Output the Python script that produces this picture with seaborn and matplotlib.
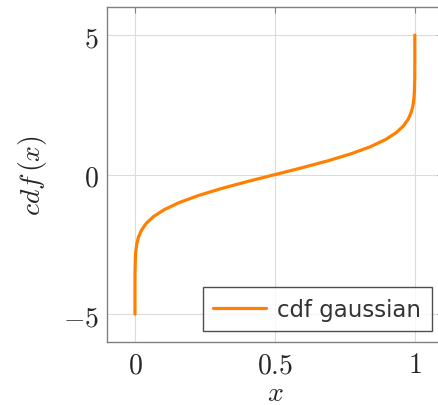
import matplotlib
matplotlib.use("Agg")
import matplotlib.pyplot as plt
import seaborn as sns
import pandas as pd

# values of the gaussian cdf (x axis) against y
y_vals = [-5, -4.5, -4, -3.5, -3, -2.75, -2.5, -2.25, -2, -1.75, -1.5, -1.25, -1,
          -0.75, -0.5, -0.25, 0, 0.25, 0.5, 0.75, 1, 1.25, 1.5, 1.75, 2, 2.25,
          2.5, 2.75, 3, 3.5, 4, 4.5, 5]
cdf_vals = [0.0000003, 0.0000034, 0.0000317, 0.000233, 0.00135, 0.00298, 0.00621,
            0.01222, 0.02275, 0.04006, 0.06681, 0.10565, 0.15866, 0.22663, 0.30854,
            0.40129, 0.5, 0.59871, 0.69146, 0.77337, 0.84134, 0.89435, 0.93319,
            0.95994, 0.97725, 0.98778, 0.99379, 0.99702, 0.99865, 0.999767,
            0.9999683, 0.9999966, 0.9999997]
x_ticks = [0, 0.5, 1]
y_ticks = [-5, 0, 5]

df = pd.DataFrame({"x": cdf_vals, "y": y_vals})

sns.set_style("white")
plt.rcParams["mathtext.fontset"] = "cm"
plt.rcParams["font.family"] = ["DejaVu Sans"]

fig = plt.figure(figsize=(4.39, 4.06), dpi=100)
ax = fig.add_axes([0.2437, 0.155, 0.765, 0.825])

sns.lineplot(data=df, x="x", y="y", sort=False, color="#ff8000", linewidth=2.3,
             label="cdf gaussian", ax=ax)

ax.set_xlim(-0.1, 1.1)
ax.set_ylim(-6, 6)
ax.set_xticks(x_ticks)
ax.set_yticks(y_ticks)
ax.set_xticklabels([r"$0$", r"$0.5$", r"$1$"], fontsize=20)
ax.set_yticklabels([r"$-5$", r"$0$", r"$5$"], fontsize=20)
ax.tick_params(direction="in", length=4, width=0.8, color="#808080",
               top=True, right=True, pad=6)
ax.grid(True, color="#dcdcdc", linewidth=0.8)
for s in ax.spines.values():
    s.set_color("#808080")
    s.set_linewidth(1.0)

ax.set_xlabel(r"$x$", fontsize=20, labelpad=0)
ax.set_ylabel(r"$cdf\,(x)$", fontsize=20, labelpad=10)

leg = ax.legend(loc="lower right", fontsize=16.5, frameon=True, fancybox=False,
                handlelength=2.3, borderpad=0.45, handletextpad=0.5,
                borderaxespad=0, bbox_to_anchor=(0.967, 0.033))
leg.get_frame().set_edgecolor("#222222")
leg.get_frame().set_linewidth(1.0)
for t in leg.get_texts():
    t.set_color("#333333")

fig.savefig("out.png", dpi=100)
